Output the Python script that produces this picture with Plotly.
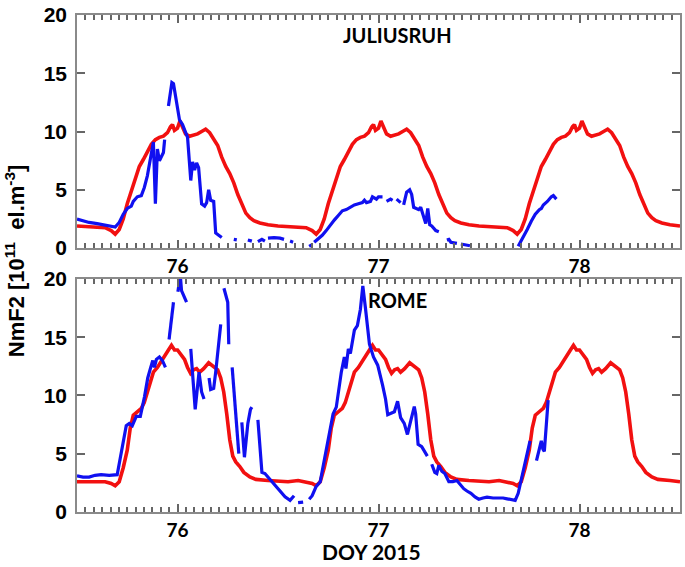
import plotly.graph_objects as go

# ---------------- JULIUSRUH (top panel) ----------------
jul_model_x = [75.50, 75.55, 75.60, 75.64, 75.67, 75.69, 75.71, 75.73, 75.75, 75.77, 75.79, 75.81,
               75.83, 75.85, 75.87, 75.89, 75.91, 75.93, 75.95, 75.965, 75.975, 75.985, 76.00, 76.012,
               76.025, 76.04, 76.06, 76.08, 76.10, 76.12, 76.14, 76.16, 76.18, 76.20, 76.22, 76.24,
               76.26, 76.28, 76.30, 76.32, 76.34, 76.36, 76.38, 76.41, 76.45, 76.50, 76.55, 76.60,
               76.64, 76.67, 76.69, 76.71, 76.73, 76.75, 76.77, 76.79, 76.81, 76.83, 76.85, 76.87,
               76.89, 76.91, 76.93, 76.95, 76.965, 76.975, 76.985, 77.00, 77.012, 77.025, 77.04, 77.06,
               77.08, 77.10, 77.12, 77.14, 77.16, 77.18, 77.20, 77.22, 77.24, 77.26, 77.28, 77.30,
               77.32, 77.34, 77.36, 77.38, 77.41, 77.45, 77.50, 77.55, 77.60, 77.64, 77.67, 77.69,
               77.71, 77.73, 77.75, 77.77, 77.79, 77.81, 77.83, 77.85, 77.87, 77.89, 77.91, 77.93,
               77.95, 77.965, 77.975, 77.985, 78.00, 78.012, 78.025, 78.04, 78.06, 78.08, 78.10, 78.12,
               78.14, 78.16, 78.18, 78.20, 78.22, 78.24, 78.26, 78.28, 78.30, 78.32, 78.34, 78.36,
               78.38, 78.41, 78.45, 78.50]
jul_model_y = [1.9, 1.85, 1.8, 1.75, 1.5, 1.2, 1.6, 2.5, 3.8, 4.9, 6.0, 7.0,
               7.6, 8.3, 8.9, 9.3, 9.5, 9.6, 9.9, 10.4, 10.6, 10.1, 10.3, 10.9,
               10.4, 9.8, 9.6, 9.7, 9.8, 10.0, 10.2, 9.9, 9.4, 8.8, 7.8, 7.0,
               6.4, 5.6, 4.6, 3.7, 3.0, 2.6, 2.35, 2.15, 2.0, 1.9, 1.85, 1.8,
               1.75, 1.5, 1.2, 1.6, 2.5, 3.8, 4.9, 6.0, 7.0, 7.6, 8.3, 8.9,
               9.3, 9.5, 9.6, 9.9, 10.4, 10.6, 10.1, 10.3, 10.9, 10.4, 9.8, 9.6,
               9.7, 9.8, 10.0, 10.2, 9.9, 9.4, 8.8, 7.8, 7.0, 6.4, 5.6, 4.6,
               3.7, 3.0, 2.6, 2.35, 2.15, 2.0, 1.9, 1.85, 1.8, 1.75, 1.5, 1.2,
               1.6, 2.5, 3.8, 4.9, 6.0, 7.0, 7.6, 8.3, 8.9, 9.3, 9.5, 9.6,
               9.9, 10.4, 10.6, 10.1, 10.3, 10.9, 10.4, 9.8, 9.6, 9.7, 9.8, 10.0,
               10.2, 9.9, 9.4, 8.8, 7.8, 7.0, 6.4, 5.6, 4.6, 3.7, 3.0, 2.6,
               2.35, 2.15, 2.0, 1.9]

jul_obs_x = [75.50, 75.52, 75.54, 75.56, 75.60, 75.63, 75.66, 75.69, 75.71, 75.73, 75.75, 75.77,
             75.78, 75.80, 75.82, 75.835, 75.85, 75.86, 75.872, 75.88, 75.89, 75.90, 75.91, 75.92,
             75.93, 75.936, None,
             75.955, 75.965, 75.972, 75.98, 75.99, 76.00, 76.01, 76.025, 76.04, 76.05, 76.066, 76.075,
             76.085, 76.095, 76.105, 76.115, 76.12, 76.135, 76.145, 76.155, 76.165, 76.18, 76.19, 76.205,
             76.22, None,
             76.28, 76.295, None, 76.35, 76.37, None, 76.40, 76.42, 76.435, None,
             76.45, 76.48, 76.51, 76.53, None, 76.56, 76.575, None,
             76.655, 76.67, None,
             76.68, 76.70, 76.72, 76.74, 76.76, 76.78, 76.80, 76.82, 76.84, 76.86, 76.88, 76.90,
             76.92, 76.93, 76.94, 76.96, 76.97, 76.99, 77.00, 77.02, None,
             77.04, 77.06, 77.07, None, 77.09, 77.11, None,
             77.125, 77.14, 77.155, 77.165, 77.175, 77.19, 77.20, 77.21, 77.225, 77.235, 77.245, 77.255,
             77.265, 77.275, 77.285, 77.30, None,
             77.34, 77.35, 77.36, 77.38, 77.39, None, 77.41, 77.43, 77.455, None,
             77.695, 77.72, 77.74, 77.76, 77.78, 77.80, 77.81, 77.82, 77.84, 77.86, 77.87, 77.885]
jul_obs_y = [2.5, 2.4, 2.35, 2.2, 2.1, 2.0, 1.9, 1.8, 2.2, 2.9, 3.4, 3.6,
             4.0, 4.4, 4.5, 5.2, 6.2, 7.2, 8.3, 9.1, 3.8, 8.5, 7.5, 7.8,
             8.2, 9.3, None,
             12.2, 13.6, 14.2, 14.1, 13.0, 11.8, 11.0, 10.6, 10.0, 9.5, 5.8, 7.4,
             6.7, 7.3, 6.9, 5.0, 3.8, 3.6, 3.9, 5.0, 4.1, 4.0, 1.3, 1.1,
             0.9, None,
             0.75, 0.7, None, 0.7, 0.6, None, 0.55, 0.75, 0.6, None,
             0.85, 0.9, 0.85, 0.75, None, 0.6, 0.5, None,
             0.15, 0.3, None,
             0.5, 0.8, 1.1, 1.5, 2.0, 2.4, 2.8, 3.2, 3.3, 3.5, 3.7, 3.8,
             3.9, 4.1, 3.9, 4.0, 4.4, 4.2, 4.4, 4.4, None,
             4.0, 4.2, 4.1, None, 4.2, 3.9, None,
             3.7, 4.8, 5.0, 4.6, 3.5, 3.4, 3.3, 3.5, 2.5, 2.1, 3.4, 2.0,
             1.9, 1.7, 1.5, 1.4, None,
             0.7, 0.75, 0.5, 0.45, 0.4, None, 0.35, 0.3, 0.2, None,
             0.15, 0.9, 1.6, 2.3, 2.9, 3.3, 3.4, 3.7, 4.0, 4.4, 4.5, 4.2]

# ---------------- ROME (bottom panel) ----------------
rome_model_x = [75.50, 75.55, 75.60, 75.64, 75.67, 75.69, 75.71, 75.73, 75.75, 75.765, 75.78, 75.80,
                75.82, 75.835, 75.85, 75.865, 75.88, 75.90, 75.92, 75.94, 75.955, 75.97, 75.985, 76.00,
                76.02, 76.035, 76.05, 76.065, 76.08, 76.095, 76.11, 76.13, 76.155, 76.175, 76.20, 76.215,
                76.23, 76.245, 76.26, 76.275, 76.29, 76.31, 76.33, 76.36, 76.39, 76.45, 76.50, 76.55,
                76.60, 76.64, 76.67, 76.69, 76.71, 76.73, 76.75, 76.765, 76.78, 76.80, 76.82, 76.835,
                76.85, 76.865, 76.88, 76.90, 76.92, 76.94, 76.955, 76.97, 76.985, 77.00, 77.02, 77.035,
                77.05, 77.065, 77.08, 77.095, 77.11, 77.13, 77.155, 77.175, 77.20, 77.215, 77.23, 77.245,
                77.26, 77.275, 77.29, 77.31, 77.33, 77.36, 77.39, 77.45, 77.50, 77.55, 77.60, 77.64,
                77.67, 77.69, 77.71, 77.73, 77.75, 77.765, 77.78, 77.80, 77.82, 77.835, 77.85, 77.865,
                77.88, 77.90, 77.92, 77.94, 77.955, 77.97, 77.985, 78.00, 78.02, 78.035, 78.05, 78.065,
                78.08, 78.095, 78.11, 78.13, 78.155, 78.175, 78.20, 78.215, 78.23, 78.245, 78.26, 78.275,
                78.29, 78.31, 78.33, 78.36, 78.39, 78.45, 78.50]
rome_model_y = [2.6, 2.6, 2.65, 2.6, 2.45, 2.25, 2.6, 3.8, 5.3, 7.2, 8.3, 8.6,
                8.9, 9.4, 10.3, 11.3, 12.0, 12.4, 12.9, 13.5, 13.9, 14.3, 13.9, 13.9,
                13.5, 13.1, 12.4, 11.9, 12.2, 12.3, 12.0, 12.3, 12.8, 12.5, 12.2, 11.5,
                10.3, 8.4, 6.2, 4.8, 4.3, 3.9, 3.4, 3.0, 2.8, 2.7, 2.65, 2.6,
                2.7, 2.6, 2.45, 2.25, 2.6, 3.8, 5.3, 7.2, 8.3, 8.6, 8.9, 9.4,
                10.3, 11.3, 12.0, 12.4, 12.9, 13.5, 13.9, 14.3, 13.9, 13.9, 13.5, 13.1,
                12.4, 11.9, 12.2, 12.3, 12.0, 12.3, 12.8, 12.5, 12.2, 11.5, 10.3, 8.4,
                6.2, 4.8, 4.3, 3.9, 3.4, 3.0, 2.8, 2.7, 2.65, 2.6, 2.7, 2.6,
                2.45, 2.25, 2.6, 3.8, 5.3, 7.2, 8.3, 8.6, 8.9, 9.4, 10.3, 11.3,
                12.0, 12.4, 12.9, 13.5, 13.9, 14.3, 13.9, 13.9, 13.5, 13.1, 12.4, 11.9,
                12.2, 12.3, 12.0, 12.3, 12.8, 12.5, 12.2, 11.5, 10.3, 8.4, 6.2, 4.8,
                4.3, 3.9, 3.4, 3.0, 2.8, 2.7, 2.6]

rome_obs_x = [75.50, 75.53, 75.56, 75.59, 75.62, 75.66, 75.70, 75.72, 75.735, 75.745, 75.76, 75.775,
              75.795, 75.815, 75.836, 75.852, 75.865, 75.877, 75.885, 75.895, 75.91, 75.925, 75.94, None,
              75.958, 75.98, None,
              76.002, 76.014, 76.02, 76.033, 76.045, None,
              76.066, 76.074, 76.088, 76.107, 76.12, 76.132, None,
              76.157, 76.165, 76.18, 76.19, 76.215, None,
              76.231, 76.25, 76.255, None,
              76.272, 76.29, 76.305, None,
              76.32, 76.333, 76.35, 76.363, 76.37, None,
              76.40, 76.42, 76.435, 76.45, 76.486, 76.51, 76.535, 76.56, 76.58, None,
              76.60, 76.625, None,
              76.655, 76.67, 76.69, 76.71, 76.733, 76.75, 76.774, 76.79, 76.815, 76.83, 76.838, 76.85,
              76.86, 76.88, 76.895, 76.91, 76.922, 76.935, 76.955, 76.975, 76.996, 77.02, 77.035, 77.046,
              77.065, 77.079, 77.095, 77.11, 77.128, 77.144, 77.16, 77.178, 77.185, 77.197, 77.215, 77.235,
              77.243, None,
              77.265, 77.28, 77.29, 77.30, 77.315, 77.33, 77.35, 77.37, 77.39, 77.41, 77.424, 77.44,
              77.46, 77.48, 77.499, 77.52, 77.54, 77.57, 77.59, 77.62, 77.64, 77.66, 77.68, 77.695,
              77.705, 77.72, 77.737, 77.754, None,
              77.786, 77.795, 77.81, 77.818, 77.825, 77.835, 77.844]
rome_obs_y = [3.1, 3.0, 3.0, 3.15, 3.2, 3.15, 3.2, 5.0, 6.5, 7.4, 7.6, 7.4,
              8.2, 8.2, 9.9, 11.5, 12.3, 13.0, 12.4, 13.1, 13.3, 13.0, 12.4, None,
              14.8, 18.0, None,
              18.9, 20.3, 19.0, 18.5, 18.0, None,
              14.0, 12.0, 8.8, 12.0, 10.3, 9.7, None,
              11.5, 10.5, 10.6, 12.0, 16.1, None,
              19.2, 18.0, 14.4, None,
              12.4, 8.3, 5.0, None,
              7.7, 4.7, 7.6, 8.8, 9.0, None,
              7.9, 3.4, 3.3, 3.0, 2.3, 1.85, 1.3, 1.0, 1.4, None,
              0.8, 0.85, None,
              1.1, 1.4, 2.2, 2.6, 4.7, 6.4, 8.4, 9.0, 12.0, 13.3, 12.3, 14.0,
              13.6, 15.6, 16.0, 17.4, 19.4, 17.5, 14.4, 13.3, 12.6, 10.9, 9.7, 8.35,
              8.5, 8.6, 9.5, 8.1, 7.6, 6.65, 7.8, 9.05, 8.4, 5.8, 5.6, 5.0,
              4.8, None,
              4.1, 3.4, 3.3, 4.0, 3.5, 3.3, 2.6, 2.6, 2.7, 2.3, 2.0, 1.8,
              1.6, 1.3, 1.1, 1.2, 1.27, 1.2, 1.2, 1.2, 1.13, 1.05, 1.0, 1.6,
              2.4, 3.6, 4.95, 6.1, None,
              4.4, 5.0, 6.1, 5.4, 5.2, 7.5, 9.6]

x_ticks = [76, 77, 78]
y_ticks = [0, 5, 10, 15, 20]

RED = "#f21010"
BLUE = "#1010f0"
AX = "#666666"

fig = go.Figure()
fig.add_trace(go.Scatter(x=jul_model_x, y=jul_model_y, mode="lines",
                         line=dict(color=RED, width=3.6), xaxis="x", yaxis="y"))
fig.add_trace(go.Scatter(x=jul_obs_x, y=jul_obs_y, mode="lines", connectgaps=False,
                         line=dict(color=BLUE, width=3.2), xaxis="x", yaxis="y"))
fig.add_trace(go.Scatter(x=rome_model_x, y=rome_model_y, mode="lines",
                         line=dict(color=RED, width=3.6), xaxis="x2", yaxis="y2"))
fig.add_trace(go.Scatter(x=rome_obs_x, y=rome_obs_y, mode="lines", connectgaps=False,
                         line=dict(color=BLUE, width=3.2), xaxis="x2", yaxis="y2"))

xfont = dict(family="Lato", size=19, color="black", weight="bold")
yfont = dict(family="Liberation Sans", size=21, color="black", weight="bold")

def xax(anchor):
    return dict(range=[75.5, 78.5], tickmode="linear", tick0=x_ticks[0], dtick=1,
                ticks="inside", ticklen=8, tickwidth=1.5, tickcolor=AX,
                showline=True, linecolor="#8a8a8a", linewidth=1.5, mirror="ticks",
                showgrid=False, zeroline=False, tickfont=xfont, anchor=anchor,
                minor=dict(tickmode="linear", dtick=1 / 24, tick0=75.5, ticks="inside",
                           ticklen=5, tickwidth=1.5, tickcolor=AX, showgrid=False))

def yax(anchor, domain):
    return dict(range=[0, 20], tickvals=y_ticks, ticks="inside", ticklen=8, tickwidth=1.5,
                tickcolor=AX, showline=True, linecolor="#8a8a8a", linewidth=1.5, mirror="ticks",
                showgrid=False, zeroline=False, tickfont=yfont, anchor=anchor, domain=domain,
                ticklabelstandoff=4)

fig.update_layout(
    width=685, height=567,
    margin=dict(l=77, r=3, t=9, b=55),
    paper_bgcolor="white", plot_bgcolor="white",
    showlegend=False,
    xaxis=xax("y"), yaxis=yax("x", [0.531, 1.0]),
    xaxis2=xax("y2"), yaxis2=yax("x2", [0.0, 0.469]),
    annotations=[
        dict(text="JULIUSRUH", x=77.095, y=18.3, xref="x", yref="y", showarrow=False,
             font=dict(family="Lato", size=20, color="black", weight="bold")),
        dict(text="ROME", x=77.095, y=18.2, xref="x2", yref="y2", showarrow=False,
             font=dict(family="Lato", size=20, color="black", weight="bold")),
        dict(text="DOY 2015", x=0.4876, y=-0.08, xref="paper", yref="paper", showarrow=False,
             xanchor="center", yanchor="middle",
             font=dict(family="Lato", size=21, color="black", weight="bold")),
        dict(text="NmF2 [10<sup>11</sup>  el.m<sup>-3</sup>]", x=-0.1025, y=0.505,
             xref="paper", yref="paper", showarrow=False, textangle=-90,
             xanchor="center", yanchor="middle",
             font=dict(family="Liberation Sans", size=22, color="black", weight="bold")),
    ],
)

fig.write_html("out.html", config={"displayModeBar": False},
               post_script="document.body.style.margin='0';document.body.style.padding='0';")
